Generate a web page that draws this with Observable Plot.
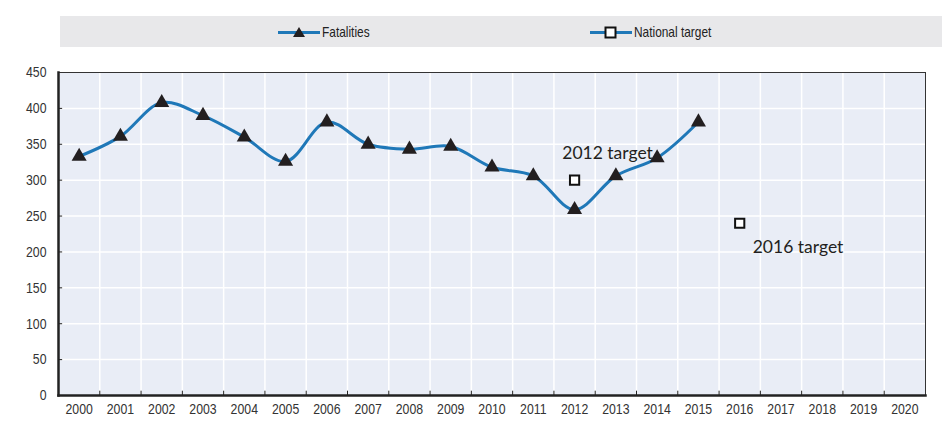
<!DOCTYPE html>
<html><head><meta charset="utf-8">
<script src="https://cdn.jsdelivr.net/npm/d3@7"></script>
<script src="https://cdn.jsdelivr.net/npm/@observablehq/plot@0.6"></script>
<style>
body{margin:0;background:#fff;width:942px;height:425px;overflow:hidden;position:relative;font-family:"Liberation Sans",Arial,sans-serif;}
#legend{position:absolute;left:60px;top:16px;width:882px;height:31px;background:#e8e8ea;}
.item{position:absolute;top:0;height:31px;display:flex;align-items:center;font-size:14.5px;color:#222}
.item span{display:inline-block;transform:scaleX(0.82);transform-origin:left center;white-space:nowrap;margin-left:2px}
#chart{position:absolute;left:0;top:55px}
</style></head>
<body><div id="legend"></div><div id="chart"></div>
<script>
const fatalityYears = [2000,2001,2002,2003,2004,2005,2006,2007,2008,2009,2010,2011,2012,2013,2014,2015];
const fatalities = [333,361,408,390,360,326,381,350,343,347,318,306,259,306,331,381];
const targetYears = [2012,2016];
const targets = [300,240];
const targetLabels = ["2012 target","2016 target"];
const axisYears = [2000,2001,2002,2003,2004,2005,2006,2007,2008,2009,2010,2011,2012,2013,2014,2015,2016,2017,2018,2019,2020];
const yTicks = [0,50,100,150,200,250,300,350,400,450];
const seriesNames = ["Fatalities","National target"];

const fatData = fatalityYears.map((y,i)=>({year:y,value:fatalities[i]}));
const tgtData = targetYears.map((y,i)=>({year:y,value:targets[i],label:targetLabels[i]}));
const bounds = [axisYears[0]-0.5, ...axisYears.map(y=>y+0.5)];
const inner = bounds.slice(1,-1);

const lineColor = "#1f78b8";
const markColor = "#231f20";

const chart = Plot.plot({
  width: 942, height: 370,
  marginTop: 17, marginLeft: 58, marginRight: 17, marginBottom: 30,
  style: {fontFamily: '"Liberation Sans",Arial,sans-serif', fontSize: "15px", color: "#333", background: "transparent"},
  x: {domain: [bounds[0], bounds[bounds.length-1]]},
  y: {domain: [0, 450]},
  marks: [
    Plot.frame({fill: "#e9edf6", stroke: null}),
    Plot.ruleY(yTicks.slice(1,-1), {stroke: "#fff", strokeWidth: 1.5}),
    Plot.ruleX(inner, {stroke: "#fff", strokeWidth: 1.5}),
    Plot.frame({stroke: "#333", strokeWidth: 1}),
    Plot.ruleX(inner, {y1: 0, y2: 6, stroke: "#222", strokeWidth: 1}),
    Plot.ruleY(yTicks.slice(1,-1), {x1: bounds[0], x2: bounds[0] + 0.1, stroke: "#222", strokeWidth: 1}),
    Plot.frame({anchor: "left", stroke: "#222", strokeWidth: 2.5}),
    Plot.frame({anchor: "bottom", stroke: "#222", strokeWidth: 2.5}),
    Plot.axisY({ticks: yTicks, tickSize: 0, tickPadding: 12, label: null, fill: "#333"}),
    Plot.axisX({ticks: axisYears, tickSize: 0, tickPadding: 8, tickFormat: d => String(d), label: null, fill: "#333"}),
    Plot.line(fatData, {x: "year", y: "value", curve: "catmull-rom", stroke: lineColor, strokeWidth: 3}),
    Plot.dot(fatData, {x: "year", y: "value", symbol: "triangle", r: 5.6, fill: markColor, stroke: null}),
    Plot.dot(tgtData, {x: "year", y: "value", symbol: "square", r: 5.2, fill: "#fff", stroke: "#111", strokeWidth: 2}),
    Plot.text(tgtData.slice(0,1), {x: "year", y: "value", text: "label", dx: 33, dy: -27, fontFamily: "Lato, 'Open Sans', sans-serif", fontSize: 17.5, fill: "#231f20"}),
    Plot.text(tgtData.slice(1), {x: "year", y: "value", text: "label", dx: 13, dy: 24, textAnchor: "start", fontFamily: "Lato, 'Open Sans', sans-serif", fontSize: 17.5, fill: "#231f20"})
  ]
});
// condense axis tick labels horizontally (narrow typeface look)
chart.querySelectorAll('g[aria-label$="tick label"] text').forEach(t => {
  let tr = t.getAttribute("transform") || "";
  const x = t.getAttribute("x");
  if (x !== null) { t.removeAttribute("x"); tr += ` translate(${x},0)`; }
  t.setAttribute("transform", tr + " scale(0.82,1)");
});
document.getElementById("chart").appendChild(chart);

// legend
const legend = document.getElementById("legend");
const positions = [218, 530];
seriesNames.forEach((name, i) => {
  const item = document.createElement("div");
  item.className = "item";
  item.style.left = positions[i] + "px";
  const sym = i === 0
    ? `<polygon points="21,4 27,14 15,14" fill="${markColor}"/>`
    : `<rect x="15.5" y="4.5" width="10" height="10" fill="#fff" stroke="#111" stroke-width="2"/>`;
  item.innerHTML = `<svg width="42" height="18"><line x1="0" y1="9.5" x2="42" y2="9.5" stroke="${lineColor}" stroke-width="3"/>${sym}</svg><span>${name}</span>`;
  legend.appendChild(item);
});
</script>
</body></html>
